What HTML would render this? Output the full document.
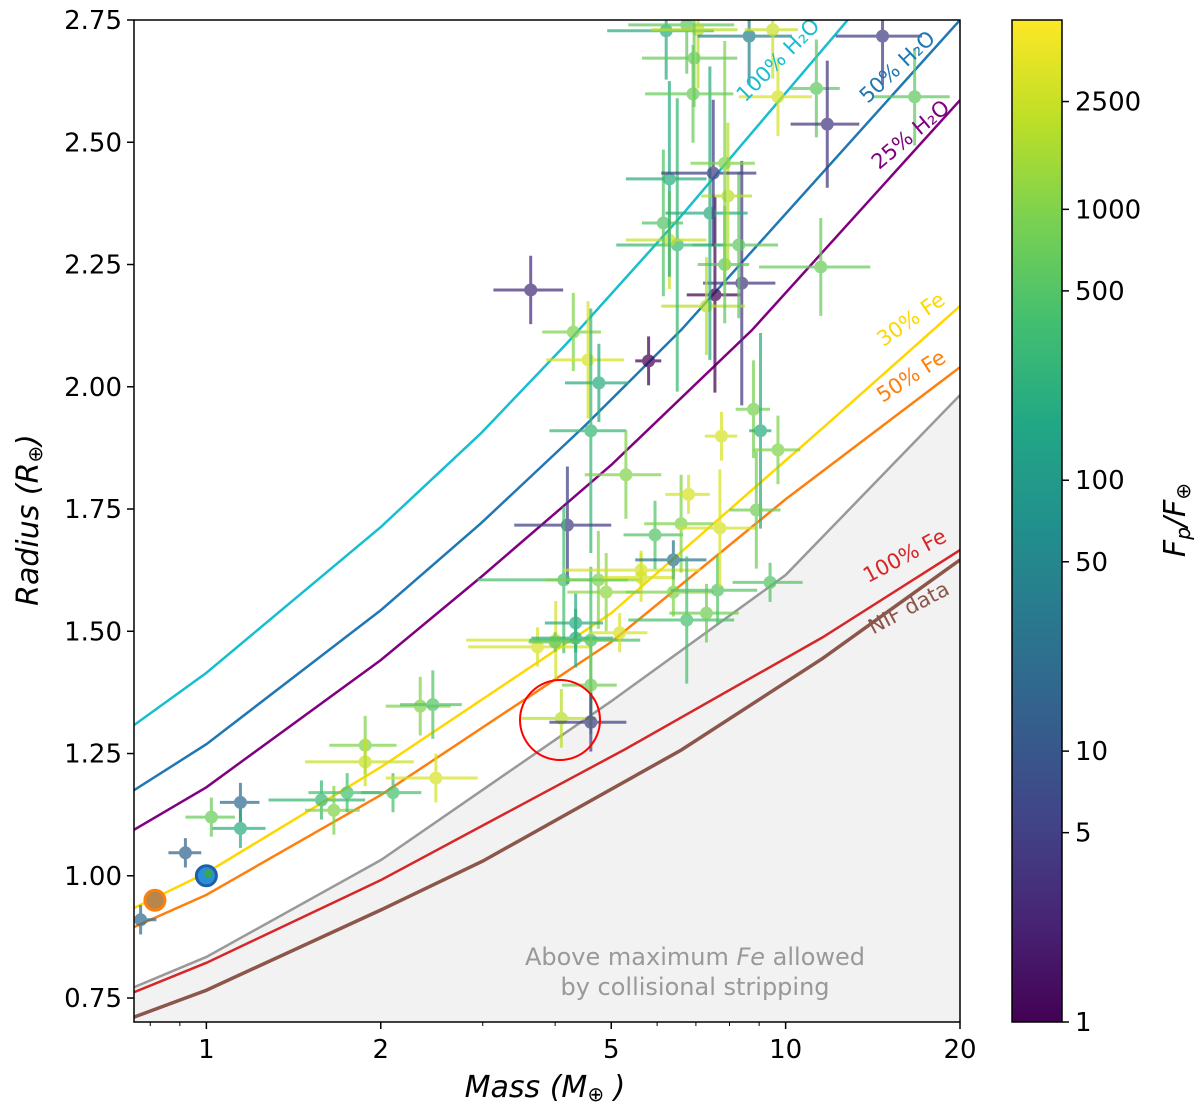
<!DOCTYPE html>
<html><head><meta charset="utf-8"><style>
body{margin:0;background:#fff;}
svg text{font-family:"DejaVu Sans","Liberation Sans",sans-serif;}
</style></head><body>
<svg id="chart" width="1200" height="1112" viewBox="0 0 1200 1112" xmlns="http://www.w3.org/2000/svg">
<defs>
<clipPath id="plotclip"><rect x="134" y="20" width="826" height="1002"/></clipPath>
<linearGradient id="cbgrad" x1="0" y1="1" x2="0" y2="0">
<stop offset="0" stop-color="#440154"/><stop offset="0.1" stop-color="#482475"/><stop offset="0.2" stop-color="#414487"/><stop offset="0.3" stop-color="#355f8d"/><stop offset="0.4" stop-color="#2a788e"/><stop offset="0.5" stop-color="#21918c"/><stop offset="0.6" stop-color="#22a884"/><stop offset="0.7" stop-color="#44bf70"/><stop offset="0.8" stop-color="#7ad151"/><stop offset="0.9" stop-color="#bddf26"/><stop offset="1" stop-color="#fde725"/>
</linearGradient>
</defs>
<g id="plot" clip-path="url(#plotclip)"></g>
<g id="axes"></g>
</svg>
<script>
const NS="http://www.w3.org/2000/svg";
// ---- data ----
const curveMass={
 h2o100:[0.75,1,2,2.98,4.2,6.5,12.8],
 h2o50:[0.75,1,2,2.98,4.5,6.6,20],
 h2o25:[0.75,1,2,2.98,5,8.75,20],
 fe30:[0.75,1,2,5,11.6,20],
 fe50:[0.75,1,2,5,10,20],
 strip:[0.75,1,2,5,10,20],
 fe100:[0.75,1,2,5.27,11.6,20],
 nif:[0.75,1,2,3,6.6,11.6,20]};
const curveRadius={
 h2o100:[1.308,1.415,1.713,1.905,2.09,2.34,2.75],
 h2o50:[1.175,1.269,1.543,1.721,1.92,2.116,2.75],
 h2o25:[1.094,1.181,1.441,1.611,1.84,2.116,2.586],
 fe30:[0.934,1.006,1.222,1.537,1.916,2.165],
 fe50:[0.895,0.961,1.165,1.478,1.77,2.04],
 strip:[0.772,0.834,1.032,1.357,1.615,1.983],
 fe100:[0.762,0.822,0.991,1.258,1.488,1.666],
 nif:[0.711,0.766,0.93,1.03,1.257,1.445,1.646]};
const pMass=[0.77,0.92,1.02,1.145,1.145,1.58,1.66,1.75,1.88,1.88,2.1,2.34,2.46,2.49,3.63,4.3,4.56,4.76,4.61,4.2,5.3,5.8,4.14,4.75,4.9,4.01,3.73,4.34,4.34,4.61,4.0,5.17,4.61,4.1,4.61,5.63,5.63,5.95,6.6,6.8,6.4,6.4,6.75,7.3,7.63,7.7,7.75,8.8,9.05,9.7,8.9,9.4,7.55,8.4,7.3,7.85,8.3,6.5,6.3,6.15,7.4,7.95,6.3,7.5,7.85,6.22,6.75,7.06,6.95,6.92,8.65,9.5,9.7,11.3,11.8,14.7,16.7,11.5];
const pRadius=[0.91,1.047,1.12,1.15,1.097,1.155,1.134,1.17,1.267,1.233,1.17,1.347,1.35,1.2,2.198,2.112,2.055,2.008,1.91,1.717,1.82,2.053,1.605,1.605,1.58,1.482,1.468,1.517,1.486,1.482,1.478,1.497,1.39,1.322,1.314,1.625,1.61,1.697,1.72,1.78,1.646,1.58,1.523,1.537,1.584,1.711,1.899,1.954,1.91,1.871,1.748,1.6,2.188,2.212,2.165,2.25,2.29,2.29,2.3,2.335,2.355,2.39,2.425,2.437,2.457,2.728,2.74,2.73,2.672,2.599,2.717,2.73,2.593,2.61,2.537,2.717,2.593,2.245];
const pFlux=[20,15,700,20,200,300,1000,400,1000,2500,400,1000,500,3000,3,1000,3000,200,300,5,1000,1,400,1000,1200,3000,3000,200,200,400,600,3000,800,2000,5,3000,3000,500,1000,3000,30,1000,400,800,500,3000,3000,900,200,1000,800,500,1,4,2000,600,600,300,2500,500,200,2000,200,5,1000,200,600,2000,700,700,40,2500,3000,600,4,5,600,700];
const pMassErr=[0.05,0.06,0.1,0.09,0.12,0.3,0.18,0.25,0.25,0.4,0.25,0.3,0.3,0.45,0.5,0.5,0.7,0.6,0.7,0.8,0.8,0.3,1.2,0.9,0.7,1.2,0.9,0.5,0.7,1.0,0.4,0.6,0.5,0.6,0.7,1.5,0.8,0.7,0.9,0.6,0.9,1.1,1.4,1.0,1.3,1.2,0.5,0.6,0.4,0.9,0.9,1.3,0.8,1.2,1.2,0.8,1.4,1.4,1.0,0.5,1.2,0.8,1.0,1.4,1.0,1.3,1.4,1.2,1.3,1.2,1.6,1.0,1.4,1.1,1.6,2.5,2.5,2.5];
const pRadErr=[0.03,0.03,0.04,0.04,0.04,0.04,0.05,0.04,0.06,0.05,0.04,0.06,0.07,0.05,0.07,0.08,0.12,0.08,0.25,0.12,0.09,0.05,0.15,0.1,0.08,0.08,0.04,0.06,0.06,0.15,0.02,0.04,0.1,0.06,0.06,0.04,0.05,0.07,0.1,0.04,0.04,0.05,0.13,0.06,0.07,0.12,0.05,0.1,0.2,0.07,0.12,0.04,0.2,0.25,0.1,0.12,0.15,0.3,0.1,0.15,0.3,0.15,0.2,0.15,0.25,0.1,0.1,0.12,0.1,0.1,0.1,0.1,0.08,0.1,0.13,0.1,0.1,0.1];
const xTicks=[1,2,5,10,20];
const xTickLabels=["1","2","5","10","20"];
const xMinor=[0.8,0.9,3,4,6,7,8,9];
const yTicks=[0.75,1.0,1.25,1.5,1.75,2.0,2.25,2.5,2.75];
const yTickLabels=["0.75","1.00","1.25","1.50","1.75","2.00","2.25","2.50","2.75"];
const cbTicks=[1,5,10,50,100,500,1000,2500];
const cbTickLabels=["1","5","10","50","100","500","1000","2500"];
// ---- scales ----
const X0=134,X1=960,Y0=1022,Y1=20;
const XMIN=0.75,XMAX=20,YMIN=0.701,YMAX=2.75;
const sx=m=>X0+(Math.log10(m)-Math.log10(XMIN))/(Math.log10(XMAX)-Math.log10(XMIN))*(X1-X0);
const sy=r=>Y0-(r-YMIN)/(YMAX-YMIN)*(Y0-Y1);
const CBMAX=5000;
const sc=f=>1022-Math.log10(f)/Math.log10(CBMAX)*1002;
const vir=[[68,1,84],[72,36,117],[65,68,135],[53,95,141],[42,120,142],[33,145,140],[34,168,132],[68,191,112],[122,209,81],[189,223,38],[253,231,37]];
function viridis(f){let t=Math.log10(f)/Math.log10(CBMAX);t=Math.max(0,Math.min(1,t));const i=Math.min(9,Math.floor(t*10));const u=t*10-i;const a=vir[i],b=vir[i+1];return `rgb(${a.map((v,k)=>Math.round(v+(b[k]-v)*u)).join(',')})`;}
function el(tag,attrs,parent,text){const e=document.createElementNS(NS,tag);for(const k in attrs)e.setAttribute(k,attrs[k]);if(text!==undefined)e.textContent=text;parent.appendChild(e);return e;}
const plot=document.getElementById('plot'),axes=document.getElementById('axes');
let sp=curveMass.strip.map((m,i)=>`${sx(m)},${sy(curveRadius.strip[i])}`).join(' ');
const shade=el('polygon',{points:`${X0},${Y0} ${sp} ${X1},${Y0}`,fill:'#f2f2f2'},plot);


const cols={h2o100:'#17becf',h2o50:'#1f77b4',h2o25:'#800080',fe30:'#ffd700',fe50:'#ff7f0e',strip:'#999999',fe100:'#d62728',nif:'#8c564b'};
for(const k in curveMass){
 const pts=curveMass[k].map((m,i)=>`${sx(m)},${sy(curveRadius[k][i])}`).join(' ');
 const l=el('polyline',{points:pts,fill:'none',stroke:cols[k],'stroke-width':k==='nif'?3.5:2.5},plot);
 
 
}
for(let i=0;i<pMass.length;i++){
 const c=viridis(pFlux[i]);const x=sx(pMass[i]),y=sy(pRadius[i]);
 const g=el('g',{opacity:0.72},plot);
 
 
 el('line',{x1:sx(Math.max(0.5,pMass[i]-pMassErr[i])),x2:sx(pMass[i]+pMassErr[i]),y1:y,y2:y,stroke:c,'stroke-width':3},g);
 el('line',{x1:x,x2:x,y1:sy(pRadius[i]-pRadErr[i]),y2:sy(pRadius[i]+pRadErr[i]),stroke:c,'stroke-width':3},g);
 el('circle',{cx:x,cy:y,r:6.5,fill:c},g);
}
const venus=el('circle',{cx:sx(0.815),cy:sy(0.95),r:10,fill:'#b8864b',stroke:'#ff7f0e','stroke-width':3},plot);


const earth=el('circle',{cx:sx(1),cy:sy(1),r:10,fill:'#2a8fd6',stroke:'#1f5fa8','stroke-width':3},plot);


el('circle',{cx:sx(1)+2,cy:sy(1)-2,r:4,fill:'#3aa84a'},plot);
const hl=el('circle',{cx:560,cy:720,r:40,fill:'none',stroke:'#ff0000','stroke-width':2},plot);


const labs=[["100% H₂O",783,65,-45,'#17becf'],["50% H₂O",902,72,-43,'#1f77b4'],["25% H₂O",915,140,-40,'#800080'],["30% Fe",915,325,-35,'#ffd700'],["50% Fe",915,382,-33,'#ff7f0e'],["100% Fe",908,562,-28,'#d62728'],["NIF data",912,614,-28,'#8c564b']];
labs.forEach(a=>{const t=el('text',{x:a[1],y:a[2],fill:a[4],'font-size':21,'text-anchor':'middle',transform:`rotate(${a[3]} ${a[1]} ${a[2]})`},plot,a[0]);
 
 });
const t1=el('text',{x:695,y:965,fill:'#999','font-size':24,'text-anchor':'middle'},plot,'Above maximum ');
el('tspan',{'font-style':'italic'},t1,'Fe');el('tspan',{},t1,' allowed');


const t2=el('text',{x:695,y:995,fill:'#999','font-size':24,'text-anchor':'middle'},plot,'by collisional stripping');


el('rect',{x:X0,y:Y1,width:X1-X0,height:Y0-Y1,fill:'none',stroke:'#000','stroke-width':1.5},axes);
xTicks.forEach((v,i)=>{const x=sx(v);el('line',{x1:x,x2:x,y1:Y0,y2:Y0+7,stroke:'#000','stroke-width':1.5},axes);
 const t=el('text',{x:x,y:1058,'font-size':26,'text-anchor':'middle'},axes,xTickLabels[i]);
 
 });
xMinor.forEach(v=>{const x=sx(v);el('line',{x1:x,x2:x,y1:Y0,y2:Y0+4,stroke:'#000','stroke-width':1},axes);});
yTicks.forEach((v,i)=>{const y=sy(v);el('line',{x1:X0-7,x2:X0,y1:y,y2:y,stroke:'#000','stroke-width':1.5},axes);
 const t=el('text',{x:122,y:y+9,'font-size':26,'text-anchor':'end'},axes,yTickLabels[i]);
 
 });
const xt=el('text',{x:545,y:1097,'font-size':30,'text-anchor':'middle','font-style':'italic'},axes,'Mass (M');
el('tspan',{'font-size':20,dy:4},xt,'⊕');el('tspan',{dy:-4},xt,' )');


const yt=el('text',{x:38,y:520,'font-size':30,'text-anchor':'middle','font-style':'italic',transform:'rotate(-90 38 520)'},axes,'Radius (R');
el('tspan',{'font-size':20,dy:4},yt,'⊕');el('tspan',{dy:-4},yt,')');


const cb=el('rect',{x:1012,y:20,width:50,height:1002,fill:'url(#cbgrad)',stroke:'#000','stroke-width':1.5},axes);


cbTicks.forEach((v,i)=>{const y=sc(v);el('line',{x1:1062,x2:1069,y1:y,y2:y,stroke:'#000','stroke-width':1.5},axes);
 const t=el('text',{x:1075,y:y+9,'font-size':26},axes,cbTickLabels[i]);
 
 });
const ct=el('text',{x:1185,y:520,'font-size':30,'text-anchor':'middle','font-style':'italic',transform:'rotate(-90 1185 520)'},axes,'F');
el('tspan',{'font-size':20,dy:5},ct,'p');el('tspan',{dy:-5},ct,'/F');el('tspan',{'font-size':20,dy:5},ct,'⊕');


</script>
</body></html>
